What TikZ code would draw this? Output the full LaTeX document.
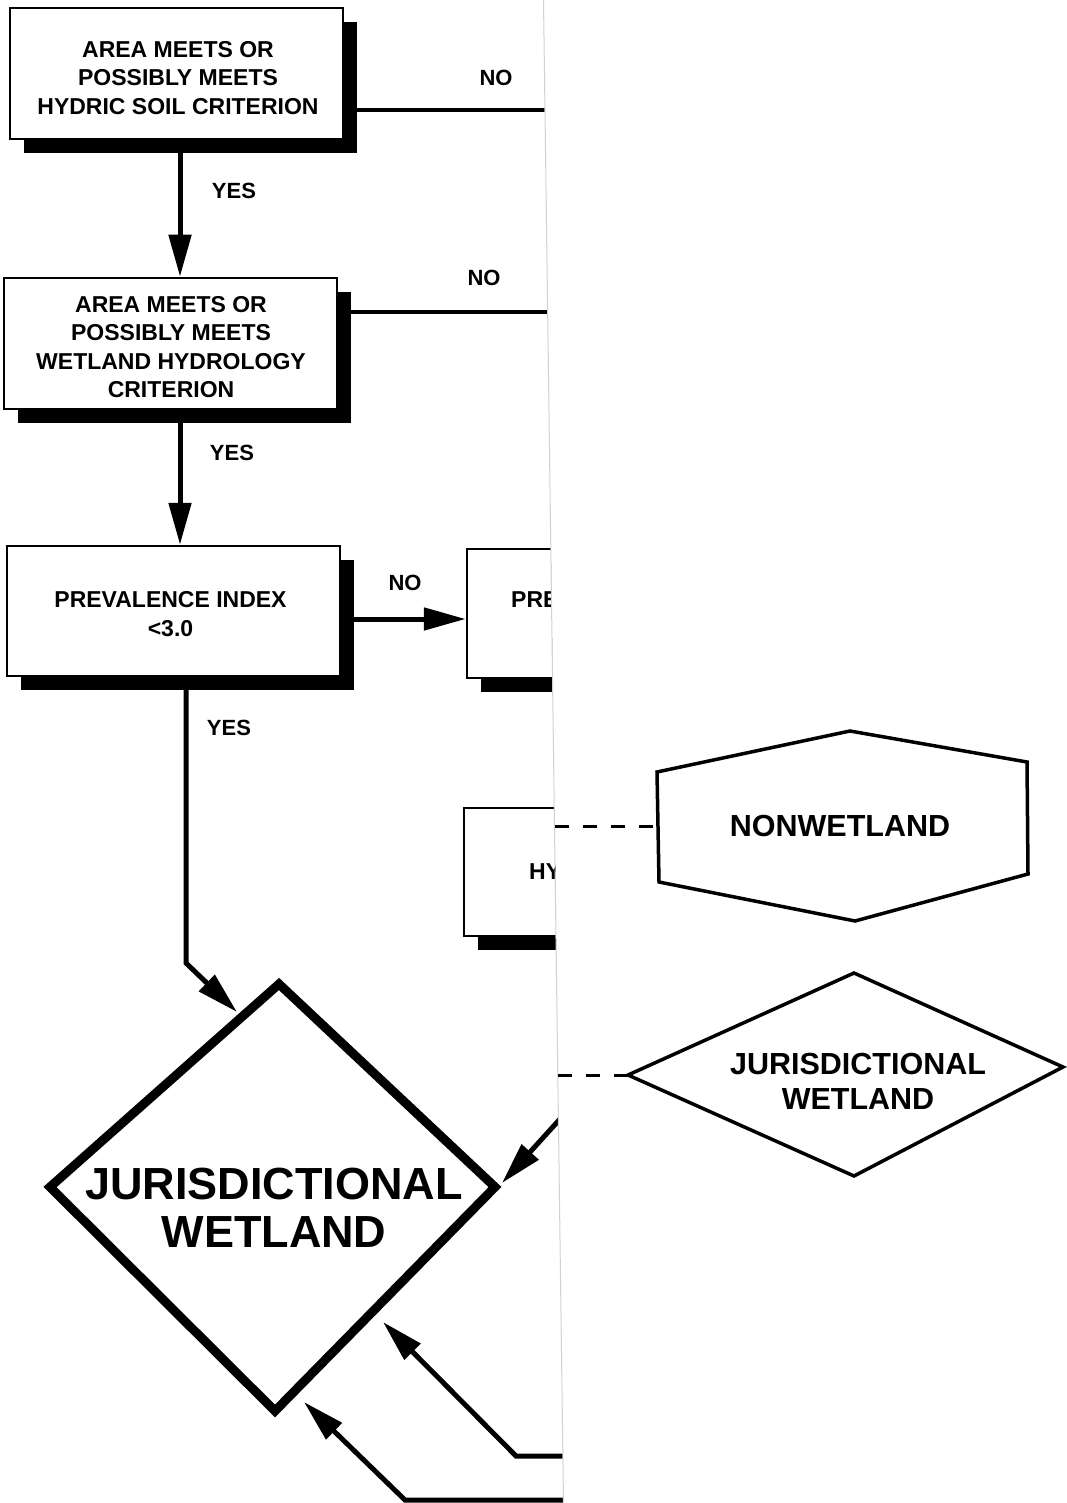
\documentclass[tikz,border=0pt]{standalone}
\usepackage{fontspec}
\setmainfont{Liberation Sans}
\usetikzlibrary{arrows.meta,shadows,calc}
\newcommand\boxfont{\fontsize{23}{28.5}\selectfont\bfseries}
\newcommand\labfont{\fontsize{22}{26}\selectfont\bfseries}
\newcommand\midfont{\fontsize{30.5}{35}\selectfont\bfseries}
\newcommand\bigfont{\fontsize{45}{48}\selectfont\bfseries}
\begin{document}
\begin{tikzpicture}[x=1pt,y=-1pt,
  box/.style={draw, line width=2.5pt, fill=white, minimum width=333pt,
    minimum height=131pt, inner sep=0pt,
    drop shadow={shadow xshift=14pt, shadow yshift=-14pt, opacity=1, fill=black}},
  boxtext/.style={align=center, font=\boxfont, inner sep=0pt},
  lab/.style={font=\labfont, inner sep=0pt},
  noline/.style={line width=3.5pt},
  arr/.style={line width=5pt, -{Triangle[length=42pt,width=22pt]}},
  dashline/.style={line width=3pt, dash pattern=on 14pt off 14pt},
  shapeline/.style={line width=3.5pt, line join=miter},
  bigline/.style={line width=9pt, line join=miter}]
\useasboundingbox (0,0) rectangle (1067,1503);

% left part of the scanned page, cut along a slanted edge
\begin{scope}
  \clip (0,0) -- (543.5,0) -- (563.5,1503) -- (0,1503) -- cycle;

  \node[box] (b1) at (176.5,73.5) {};
  \node[boxtext] (b1t) at ($(b1)+(1.5,4.5)$) {AREA MEETS OR\\POSSIBLY MEETS\\HYDRIC SOIL CRITERION};
  \node[box] (b2) at (170.5,343.5) {};
  \node[boxtext] (b2t) at ($(b2)+(0.5,3.5)$) {AREA MEETS OR\\POSSIBLY MEETS\\WETLAND HYDROLOGY\\CRITERION};
  \node[box, minimum height=130pt] (b3) at (173.5,611) {};
  \node[boxtext] (b3t) at ($(b3)+(-3,3)$) {PREVALENCE INDEX\\{<}3.0};
  \node[box, minimum height=129pt] (b4) at (633.5,613.5) {};
  \node[box, minimum height=128pt] (b5) at (630.5,872) {};
  \node[font=\boxfont, anchor=west, inner sep=0pt] (t4) at (511,600) {PRE};
  \node[font=\boxfont, anchor=west, inner sep=0pt] (t5) at (529,872) {HY};

  % NO branches running off the cut edge
  \coordinate (c1) at (560,110);
  \coordinate (c2) at (560,312);
  \draw[noline] (b1.east |- c1) -- (c1);
  \draw[noline] (b2.east |- c2) -- (c2);
  \node[lab] (no1) at (496,78) {NO};
  \node[lab] (no2) at (484,278) {NO};

  % YES arrows
  \coordinate (x1) at (180,0);
  \draw[arr] (b1.south -| x1) -- (b2.north -| x1);
  \node[lab] (yes1) at (234,191) {YES};
  \draw[arr] (b2.south -| x1) -- (b3.north -| x1);
  \node[lab] (yes2) at (232,453) {YES};

  % NO arrow from prevalence index
  \coordinate (y3) at (0,619);
  \draw[arr] (b3.east |- y3) -- (b4.west |- y3);
  \node[lab] (no3) at (405,583) {NO};

  % big diamond
  \coordinate (dT) at (279,984);
  \coordinate (dR) at (495,1187);
  \coordinate (dB) at (275,1411);
  \coordinate (dL) at (50,1187);
  \draw[bigline] (dT) -- (dR) -- (dB) -- (dL) -- cycle;
  \node[font=\bigfont, align=center, inner sep=0pt] (jw) at (274,1208) {JURISDICTIONAL\\WETLAND};

  % YES path into the diamond
  \coordinate (k3) at (186,963);
  \coordinate (p3) at (237,1012);
  \coordinate (x3) at (186,0);
  \draw[arr, line join=miter] (b3.south -| x3) -- (k3) -- (p3);
  \node[lab] (yes3) at (229,728) {YES};

  % arrows entering from the cut edge
  \coordinate (s1) at (560,1119);
  \coordinate (e1) at (502,1183);
  \draw[arr] (s1) -- (e1);
  \coordinate (s2) at (570,1456);
  \coordinate (k2) at (516,1456);
  \coordinate (e2) at (383,1322);
  \draw[arr, line join=miter] (s2) -- (k2) -- (e2);
  \coordinate (s4) at (570,1500);
  \coordinate (k4) at (405,1500);
  \coordinate (e4) at (304,1402);
  \draw[arr, line join=miter] (s4) -- (k4) -- (e4);
\end{scope}

% faint cut edge
\draw[black!18, line width=1pt] (543.5,0) -- (563.5,1503);

% right side: legend shapes
\coordinate (h1) at (657,772);
\coordinate (h2) at (850,731);
\coordinate (h3) at (1027,762);
\coordinate (h4) at (1028,874);
\coordinate (h5) at (855,921);
\coordinate (h6) at (659,882);
\draw[shapeline] (h1) -- (h2) -- (h3) -- (h4) -- (h5) -- (h6) -- cycle;
\node[font=\midfont, inner sep=0pt] (nw) at (840,826) {NONWETLAND};
\coordinate (hL) at (658,826);
\coordinate (cutA) at (555,826);
\draw[dashline] (cutA) -- (hL);

\coordinate (sL) at (628,1075);
\coordinate (sT) at (854,973);
\coordinate (sR) at (1063,1067);
\coordinate (sB) at (854,1176);
\draw[shapeline] (sL) -- (sT) -- (sR) -- (sB) -- cycle;
\node[font=\midfont, align=center, inner sep=0pt] (sj) at (858,1081) {JURISDICTIONAL\\WETLAND};
\coordinate (cutB) at (558,1075);
\draw[dashline] (cutB) -- (sL);
\end{tikzpicture}
\end{document}
